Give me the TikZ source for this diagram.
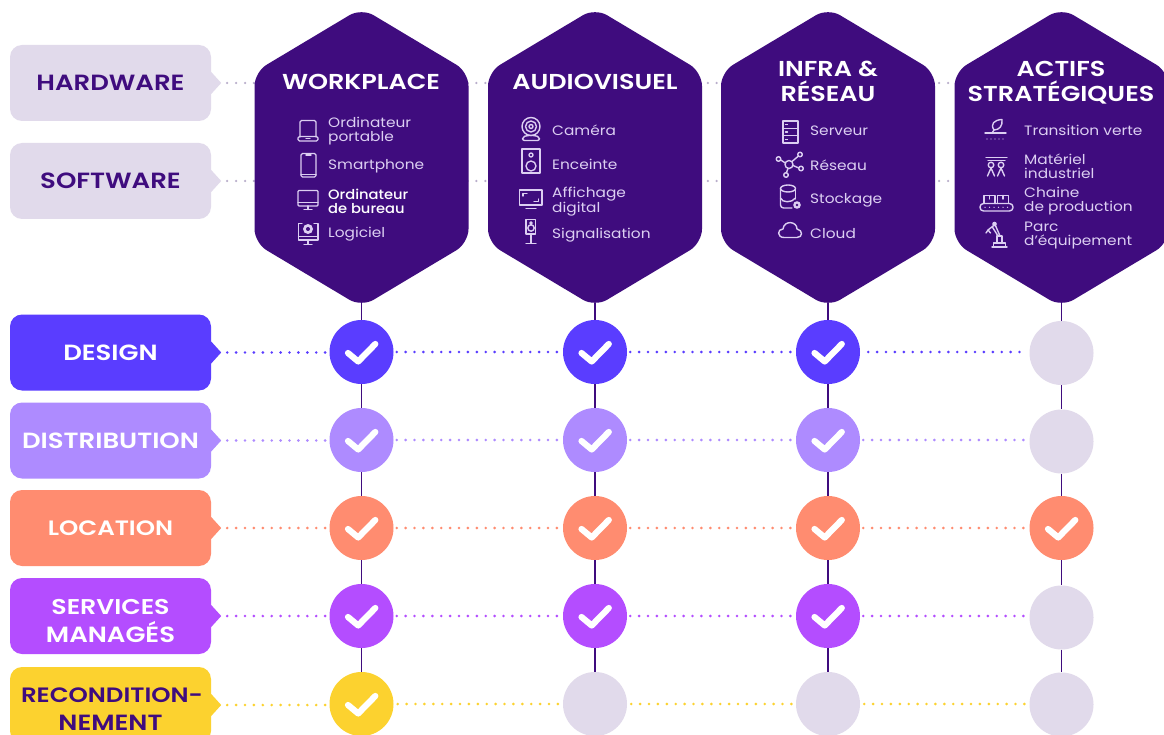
\documentclass[tikz,border=0pt]{standalone}
\usepackage{fontspec}
\setmainfont{Poppins}
\newfontfamily\hdfont[FakeStretch=1.18]{Poppins SemiBold}
\newfontfamily\itfont[FakeStretch=1.13]{Poppins}
\newfontfamily\itbfont[FakeStretch=1.08]{Poppins Medium}
\definecolor{hexc}{HTML}{3F0C7E}
\definecolor{greyc}{HTML}{E1DAEB}
\definecolor{dsg}{HTML}{5A3DFF}
\definecolor{dst}{HTML}{AE8BFF}
\definecolor{loc}{HTML}{FF8C70}
\definecolor{svc}{HTML}{B44DFF}
\definecolor{rec}{HTML}{FCD22F}
\definecolor{icn}{HTML}{DCCFF2}
\definecolor{hdot}{HTML}{B9AECB}
\tikzset{
  x=1pt,y=-1pt,
  labelbox/.style={rounded corners=12pt,minimum width=201pt,minimum height=76pt,inner sep=0pt,align=center,
    font=\hdfont\fontsize{22}{28}\selectfont},
  hexagonshape/.style={fill=hexc,rounded corners=14pt},
  hextitle/.style={text=white,align=center,inner sep=0pt,font=\hdfont\fontsize{21.6}{25.5}\selectfont},
  item/.style={text=icn,anchor=west,align=left,inner sep=0pt,font=\itfont\fontsize{13.6}{14}\selectfont},
  itembright/.style={text=white,anchor=west,align=left,inner sep=0pt,font=\itbfont\fontsize{13.6}{14}\selectfont},
  dot/.style={circle,minimum size=64pt,inner sep=0pt},
  dotline/.style={line width=2.9pt,line cap=round,dash pattern=on 0pt off 8.9pt},
  hexdotline/.style={line width=2.5pt,line cap=round,dash pattern=on 0pt off 8.9pt},
  vline/.style={draw=hexc,line width=1.6pt},
  checkmark/.style={draw=white,line width=6.2pt,line cap=round,line join=round},
  iconline/.style={draw=icn,line width=1.4pt,line join=round,line cap=round},
}
\newcommand\lab[5]{%
  \node[labelbox,fill=#2,text=#3] (#1) at (110.5,#4) {#5};
  \fill[#2] ([yshift=11pt]#1.east) -- ([xshift=10pt]#1.east) -- ([yshift=-11pt]#1.east) -- cycle;}
\newcommand\hexa[2]{%
  \fill[hexagonshape] (#1,8) -- (#1+107,72) -- (#1+107,243) -- (#1,307) -- (#1-107,243) -- (#1-107,72) -- cycle;
  \coordinate (#2) at (#1,303);}
\newcommand\chk[1]{\draw[checkmark] ([shift={(-13.5,1)}]#1.center) -- ([shift={(-3.3,9.5)}]#1.center) -- ([shift={(13.8,-8)}]#1.center);}
\begin{document}
\begin{tikzpicture}
\useasboundingbox (0,0) rectangle (1164,735);
\clip (0,0) rectangle (1164,735);
\fill[white] (0,0) rectangle (1164,735);

% top labels
\lab{hardware}{greyc}{hexc}{83}{HARDWARE}
\lab{software}{greyc}{hexc}{181}{SOFTWARE}
\coordinate (hardEnd) at (954,83);
\coordinate (softEnd) at (954,181);
\draw[hexdotline,hdot,shorten <=16pt] (hardware.east) -- (hardEnd);
\draw[hexdotline,hdot,shorten <=16pt] (software.east) -- (softEnd);

% hexagons
\hexa{361.5}{hexA}
\hexa{595}{hexB}
\hexa{828}{hexC}
\hexa{1061.5}{hexD}
\node[hextitle] (tA) at (361,82) {WORKPLACE};
\node[hextitle] (tB) at (595,82) {AUDIOVISUEL};
\node[hextitle] (tC) at (828,81.5) {INFRA \&\\RÉSEAU};
\node[hextitle] (tD) at (1061,82.5) {ACTIFS\\STRATÉGIQUES};

% items
\node[item] (a1) at (328,131) {Ordinateur\\portable};
\node[item] (a2) at (328,166.5) {Smartphone};
\node[itembright] (a3) at (328,201) {Ordinateur\\de bureau};
\node[item] (a4) at (328,234) {Logiciel};
\node[item] (b1) at (552,130.5) {Caméra};
\node[item] (b2) at (552,164) {Enceinte};
\node[item] (b3) at (552,201.5) {Affichage\\digital};
\node[item] (b4) at (552,235) {Signalisation};
\node[item] (c1) at (810,131) {Serveur};
\node[item] (c2) at (810,165) {Réseau};
\node[item] (c3) at (810,200) {Stockage};
\node[item] (c4) at (810,233.5) {Cloud};
\node[item] (d1) at (1024,130.5) {Transition verte};
\node[item] (d2) at (1024,166.5) {Matériel\\industriel};
\node[item] (d3) at (1024,201) {Chaine\\de production};
\node[item] (d4) at (1024,236) {Parc\\d’équipement};

% icons column A
\draw[iconline,rounded corners=1.5pt] (300,137) -- (300,120.5) -- (316,120.5) -- (316,137);
\draw[iconline,rounded corners=1.5pt] (298,136.5) rectangle (318,141);
\draw[iconline] (306,138.8) -- (310,138.8);
\draw[iconline,rounded corners=1.5pt] (301,153.5) rectangle (316,177);
\draw[iconline] (306,155) -- (311,155) (301,174.5) -- (316,174.5);
\draw[iconline,rounded corners=1pt] (298,190.5) rectangle (318,206);
\draw[iconline] (298,202.5) -- (318,202.5) (308,206) -- (308,209.5) (304,209.5) -- (312,209.5);
\draw[iconline] (302,223.5) -- (298.5,223.5) -- (298.5,240) -- (318,240) -- (318,223.5) -- (314,223.5);
\draw[iconline] (298.5,236.5) -- (318,236.5) (308,240) -- (308,244) (304,244.5) -- (312,244.5);
\fill[icn] (308,229) circle (5pt);
\fill[hexc] (308,229) circle (2pt);

% icons column B
\draw[iconline] (531,126.5) circle (9pt) (531,126.5) circle (5.5pt) (531,126.5) circle (2pt);
\draw[iconline,rounded corners=2pt] (522.5,140.5) -- (522.5,137) -- (527,135.5) -- (535,135.5) -- (539.5,137) -- (539.5,140.5) -- cycle;
\draw[iconline] (522,149) rectangle (540,173);
\draw[iconline] (531,155) circle (2pt) (531,166) circle (5pt);
\draw[iconline] (519.5,190) rectangle (542,205);
\draw[iconline] (523,196) -- (523,193.5) -- (527,193.5) (538.5,199) -- (538.5,201.5) -- (534,201.5);
\draw[iconline] (526,208.5) -- (536,208.5);
\draw[iconline] (526,219.5) rectangle (535.5,234);
\draw[iconline] (531,228) circle (3.2pt) (531,223) circle (1.2pt);
\draw[iconline] (531,234) -- (531,243) (526,243.5) -- (536,243.5);

% icons column C
\draw[iconline] (783,121) rectangle (798,128.3) (783,128.3) rectangle (798,135.6) (783,135.6) rectangle (798,143);
\draw[iconline] (785.5,124.6) -- (787.5,124.6) (785.5,132) -- (787.5,132) (785.5,139.3) -- (787.5,139.3);
\draw[iconline] (789,164.5) circle (4pt);
\draw[iconline] (778.5,159) circle (2.3pt) (800,154.5) circle (2.3pt) (801,168.5) circle (2.3pt) (786,175) circle (2.3pt);
\draw[iconline] (780.8,160) -- (785.3,163) (798.5,156) -- (792,161.5) (798.7,168) -- (793,165.5) (786.4,172.7) -- (788,168.5);
\draw[iconline,rounded corners=3pt] (780.5,188) -- (780.5,208) -- (792,208);
\draw[iconline] (788,188.5) ellipse (7.5pt and 3.5pt);
\draw[iconline] (795.5,188.5) -- (795.5,199);
\draw[iconline] (780.5,198) .. controls (782,203) and (792,203) .. (795.5,198);
\fill[icn] (797,205) circle (3.8pt);
\fill[hexc] (797,205) circle (1.3pt);
\draw[iconline] (784,237.5) .. controls (777,237.5) and (777,229) .. (783,229) .. controls (784,220) and (797,221) .. (797,229) .. controls (803,230) and (803,237.5) .. (797,237.5) -- cycle;

% icons column D
\draw[iconline] (994,130) .. controls (990,124) and (994,120) .. (1002,119.5) .. controls (1003,126) and (999,130) .. (994,130) -- (992,133);
\draw[iconline] (985,133) -- (1006,133);
\draw[iconline,dash pattern=on 0pt off 4pt] (987,139) -- (1005,139);
\draw[iconline] (986,157.5) -- (1007,157.5);
\draw[iconline] (988,160.5) -- (1005,160.5);
\draw[iconline] (991,165) circle (2.8pt) (1001,165) circle (2.8pt);
\draw[iconline] (991,168) -- (987.5,176) (991,168) -- (994.5,176) (1001,168) -- (997.5,176) (1001,168) -- (1004.5,176);
\draw[iconline,rounded corners=3.5pt] (980,203.5) rectangle (1013,211);
\draw[iconline] (984,203.5) -- (984,195.5) -- (995,195.5) -- (995,203.5) (997.5,203.5) -- (997.5,195.5) -- (1008.5,195.5) -- (1008.5,203.5);
\draw[iconline] (989.5,195.5) -- (989.5,199) (1003,195.5) -- (1003,199);
\draw[iconline,dash pattern=on 0pt off 4.5pt] (985,207.3) -- (1009,207.3);
\draw[iconline] (992,247) -- (1007,247) (993.5,247) -- (993.5,243) -- (1005.5,243) -- (1005.5,247);
\draw[iconline] (997,243) -- (997,236) -- (1002,236) -- (1002,243);
\draw[iconline] (1000,236) -- (995,224.5) -- (988,230) (998,236) -- (992,226.5);
\draw[iconline] (988,230) -- (986,233) (988,230) -- (990.5,233);
\fill[icn] (994.5,224) circle (2.3pt);

% matrix rows
\lab{design}{dsg}{white}{352.5}{DESIGN}
\lab{distribution}{dst}{white}{440.5}{DISTRIBUTION}
\lab{location}{loc}{white}{528}{{\fontsize{20.8}{28}\selectfont LOCATION}}
\lab{services}{svc}{white}{616}{\rule{0pt}{26pt}\fontsize{21.4}{28}\selectfont SERVICES\\MANAGÉS}
\lab{recond}{rec}{hexc}{705}{\fontsize{20.8}{28}\selectfont \rule{0pt}{22pt}\hspace{3pt}RECONDITION-\\NEMENT}

% circles
\node[dot,fill=dsg] (m11) at (361.5,352) {};
\node[dot,fill=dsg] (m12) at (595,352) {};
\node[dot,fill=dsg] (m13) at (828,352) {};
\node[dot,fill=greyc] (m14) at (1061.5,353) {};
\node[dot,fill=dst] (m21) at (361.5,440) {};
\node[dot,fill=dst] (m22) at (595,440) {};
\node[dot,fill=dst] (m23) at (828,440) {};
\node[dot,fill=greyc] (m24) at (1061.5,441.5) {};
\node[dot,fill=loc] (m31) at (361.5,528) {};
\node[dot,fill=loc] (m32) at (595,528) {};
\node[dot,fill=loc] (m33) at (828,528) {};
\node[dot,fill=loc] (m34) at (1061.5,528) {};
\node[dot,fill=svc] (m41) at (361.5,616) {};
\node[dot,fill=svc] (m42) at (595,616) {};
\node[dot,fill=svc] (m43) at (828,616) {};
\node[dot,fill=greyc] (m44) at (1061.5,617.5) {};
\node[dot,fill=rec] (m51) at (361.5,704) {};
\node[dot,fill=greyc] (m52) at (595,704) {};
\node[dot,fill=greyc] (m53) at (828,704) {};
\node[dot,fill=greyc] (m54) at (1061.5,704.5) {};

% checks
\chk{m11}\chk{m12}\chk{m13}
\chk{m21}\chk{m22}\chk{m23}
\chk{m31}\chk{m32}\chk{m33}\chk{m34}
\chk{m41}\chk{m42}\chk{m43}
\chk{m51}

% vertical connectors
\draw[vline] (hexA) -- (m11.north);
\draw[vline] (hexB) -- (m12.north);
\draw[vline] (hexC) -- (m13.north);
\draw[vline] (hexD) -- (m14.north);
\foreach \c in {1,2,3,4}{
  \draw[vline] (m1\c.south) -- (m2\c.north);
  \draw[vline] (m2\c.south) -- (m3\c.north);
  \draw[vline] (m3\c.south) -- (m4\c.north);
  \draw[vline] (m4\c.south) -- (m5\c.north);
}

% dotted row connectors
\draw[dotline,dsg,shorten <=16pt,shorten >=2pt] (design.east) -- (m11.west |- design.east);
\draw[dotline,dsg,shorten <=3pt,shorten >=2pt] (m11.east) -- (m12.west);
\draw[dotline,dsg,shorten <=3pt,shorten >=2pt] (m12.east) -- (m13.west);
\draw[dotline,dsg,shorten <=8pt,shorten >=4pt] (m13.east) -- (m14.west |- m13.east);
\draw[dotline,dst,shorten <=16pt,shorten >=2pt] (distribution.east) -- (m21.west |- distribution.east);
\draw[dotline,dst,shorten <=3pt,shorten >=2pt] (m21.east) -- (m22.west);
\draw[dotline,dst,shorten <=3pt,shorten >=2pt] (m22.east) -- (m23.west);
\draw[dotline,dst,shorten <=3pt,shorten >=4pt] (m23.east) -- (m24.west |- m23.east);
\draw[dotline,loc,shorten <=16pt,shorten >=2pt] (location.east) -- (m31.west);
\draw[dotline,loc,shorten <=3pt,shorten >=2pt] (m31.east) -- (m32.west);
\draw[dotline,loc,shorten <=3pt,shorten >=2pt] (m32.east) -- (m33.west);
\draw[dotline,loc,shorten <=3pt,shorten >=4pt] (m33.east) -- (m34.west);
\draw[dotline,svc,shorten <=16pt,shorten >=2pt] (services.east) -- (m41.west);
\draw[dotline,svc,shorten <=3pt,shorten >=2pt] (m41.east) -- (m42.west);
\draw[dotline,svc,shorten <=3pt,shorten >=2pt] (m42.east) -- (m43.west);
\draw[dotline,svc,shorten <=3pt,shorten >=4pt] (m43.east) -- (m44.west |- m43.east);
\draw[dotline,rec,shorten <=16pt,shorten >=2pt] (recond.east) -- (m51.west |- recond.east);
\draw[dotline,rec,shorten <=4pt,shorten >=2pt] (m51.east) -- (m52.west);
\draw[dotline,rec,shorten <=4pt,shorten >=2pt] (m52.east) -- (m53.west);
\draw[dotline,rec,shorten <=4pt,shorten >=3pt] (m53.east) -- (m54.west |- m53.east);
\end{tikzpicture}
\end{document}
